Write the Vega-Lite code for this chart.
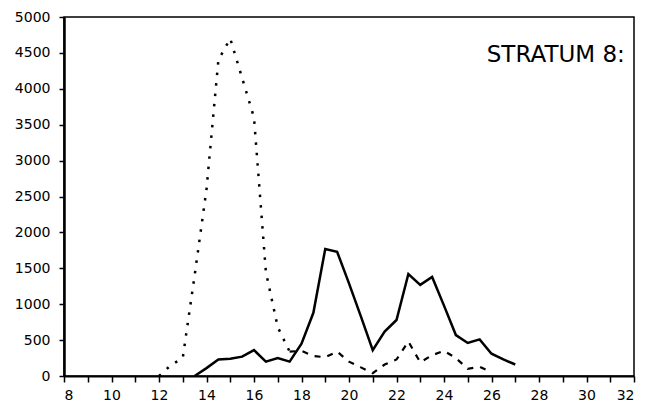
{
  "$schema": "https://vega.github.io/schema/vega-lite/v6.json",
  "width": 570,
  "height": 359,
  "autosize": {"type": "none"},
  "padding": {"left": 64, "top": 17, "right": 12, "bottom": 36},
  "background": "white",
  "config": {
    "view": {"stroke": "black", "strokeWidth": 1.5},
    "font": "DejaVu Sans"
  },
  "datasets": {
    "lines": [
      {"series": "A", "x": 12, "y": 0},
      {"series": "A", "x": 12.5, "y": 150},
      {"series": "A", "x": 13, "y": 250},
      {"series": "A", "x": 13.5, "y": 1400},
      {"series": "A", "x": 14, "y": 2600},
      {"series": "A", "x": 14.5, "y": 4400},
      {"series": "A", "x": 15, "y": 4700},
      {"series": "A", "x": 15.5, "y": 4150},
      {"series": "A", "x": 16, "y": 3600},
      {"series": "A", "x": 16.5, "y": 1450},
      {"series": "A", "x": 17, "y": 680},
      {"series": "A", "x": 17.5, "y": 340},
      {"series": "B", "x": 13.5, "y": 0},
      {"series": "B", "x": 14, "y": 110},
      {"series": "B", "x": 14.5, "y": 230},
      {"series": "B", "x": 15, "y": 240},
      {"series": "B", "x": 15.5, "y": 270},
      {"series": "B", "x": 16, "y": 360},
      {"series": "B", "x": 16.5, "y": 200},
      {"series": "B", "x": 17, "y": 250},
      {"series": "B", "x": 17.5, "y": 200},
      {"series": "B", "x": 18, "y": 450},
      {"series": "B", "x": 18.5, "y": 880},
      {"series": "B", "x": 19, "y": 1770},
      {"series": "B", "x": 19.5, "y": 1730},
      {"series": "B", "x": 20, "y": 1290},
      {"series": "B", "x": 20.5, "y": 830},
      {"series": "B", "x": 21, "y": 360},
      {"series": "B", "x": 21.5, "y": 620},
      {"series": "B", "x": 22, "y": 780},
      {"series": "B", "x": 22.5, "y": 1420},
      {"series": "B", "x": 23, "y": 1270},
      {"series": "B", "x": 23.5, "y": 1380},
      {"series": "B", "x": 24, "y": 980},
      {"series": "B", "x": 24.5, "y": 570},
      {"series": "B", "x": 25, "y": 460},
      {"series": "B", "x": 25.5, "y": 510},
      {"series": "B", "x": 26, "y": 310},
      {"series": "B", "x": 26.5, "y": 230},
      {"series": "B", "x": 27, "y": 160},
      {"series": "C", "x": 17.5, "y": 340},
      {"series": "C", "x": 18, "y": 350},
      {"series": "C", "x": 18.5, "y": 280},
      {"series": "C", "x": 19, "y": 260},
      {"series": "C", "x": 19.5, "y": 340},
      {"series": "C", "x": 20, "y": 200},
      {"series": "C", "x": 20.5, "y": 120},
      {"series": "C", "x": 21, "y": 40},
      {"series": "C", "x": 21.5, "y": 160},
      {"series": "C", "x": 22, "y": 230},
      {"series": "C", "x": 22.5, "y": 480},
      {"series": "C", "x": 23, "y": 190},
      {"series": "C", "x": 23.5, "y": 290},
      {"series": "C", "x": 24, "y": 350},
      {"series": "C", "x": 24.5, "y": 250},
      {"series": "C", "x": 25, "y": 100},
      {"series": "C", "x": 25.5, "y": 130},
      {"series": "C", "x": 26, "y": 50}
    ],
    "ann": [{"x": 25.8, "y": 4380, "label": "STRATUM 8:"}]
  },
  "encoding": {
    "x": {
      "field": "x", "type": "quantitative",
      "scale": {"domain": [8, 32], "nice": false},
      "axis": {
        "values": [8, 9, 10, 11, 12, 13, 14, 15, 16, 17, 18, 19, 20, 21, 22, 23, 24, 25, 26, 27, 28, 29, 30, 31, 32],
        "labelExpr": "datum.value % 2 == 0 ? datum.label : ''",
        "format": "d", "labelOverlap": false,
        "title": null, "grid": false,
        "domainColor": "black", "domainWidth": 2,
        "tickColor": "black", "tickWidth": 1.5, "tickSize": 6,
        "labelColor": "black", "labelFontSize": 14, "labelPadding": 6,
        "labelFont": "DejaVu Sans"
      }
    },
    "y": {
      "field": "y", "type": "quantitative",
      "scale": {"domain": [0, 5000], "nice": false},
      "axis": {
        "values": [0, 500, 1000, 1500, 2000, 2500, 3000, 3500, 4000, 4500, 5000],
        "labelExpr": "datum.label",
        "format": "d", "labelOverlap": false, "tickCount": 11,
        "title": null, "grid": false,
        "domainColor": "black", "domainWidth": 2.5,
        "tickColor": "black", "tickWidth": 1.5, "tickSize": 5,
        "labelColor": "black", "labelFontSize": 14, "labelPadding": 9,
        "labelFont": "DejaVu Sans"
      }
    }
  },
  "layer": [
    {
      "data": {"name": "lines"},
      "transform": [{"filter": "datum.series == 'A'"}],
      "mark": {"type": "line", "color": "black", "strokeWidth": 2.5, "strokeDash": [2.5, 8]}
    },
    {
      "data": {"name": "lines"},
      "transform": [{"filter": "datum.series == 'B'"}],
      "mark": {"type": "line", "color": "black", "strokeWidth": 2.5}
    },
    {
      "data": {"name": "lines"},
      "transform": [{"filter": "datum.series == 'C'"}],
      "mark": {"type": "line", "color": "black", "strokeWidth": 2.2, "strokeDash": [6, 7]}
    },
    {
      "data": {"name": "ann"},
      "mark": {"type": "text", "align": "left", "baseline": "alphabetic", "fontSize": 23, "font": "DejaVu Sans", "color": "black"},
      "encoding": {
        "text": {"field": "label"}
      }
    }
  ]
}
